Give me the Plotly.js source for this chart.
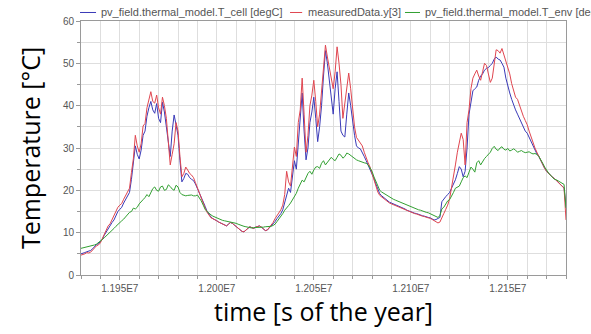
<!DOCTYPE html>
<html>
<head>
<meta charset="utf-8">
<script src="https://cdn.plot.ly/plotly-3.0.1.min.js"></script>
<style>html,body{margin:0;padding:0;background:#fff;}#chart{width:591px;height:334px;}</style>
</head>
<body>
<div id="chart"></div>
<script>
// time [s of the year]
const time = [
11930000,11931000,11932000,11933000,11934000,11935000,11936000,11937000,11938000,11939000,
11940000,11941000,11942000,11943000,11944000,11945000,11946000,11947000,11948000,11949000,
11950000,11951000,11952000,11953000,11954000,11955000,11956000,11957000,11958000,11959000,
11960000,11961000,11962000,11963000,11964000,11965000,11966000,11967000,11968000,11969000,
11970000,11971000,11972000,11973000,11974000,11975000,11976000,11977000,11978000,11979000,
11980000,11981000,11982000,11983000,11984000,11985000,11986000,11987000,11988000,11989000,
11990000,11991000,11992000,11993000,11994000,11995000,11996000,11997000,11998000,11999000,
12000000,12001000,12002000,12003000,12004000,12005000,12006000,12007000,12008000,12009000,
12010000,12011000,12012000,12013000,12014000,12015000,12016000,12017000,12018000,12019000,
12020000,12021000,12022000,12023000,12024000,12025000,12026000,12027000,12028000,12029000,
12030000,12031000,12032000,12033000,12034000,12035000,12036000,12037000,12038000,12039000,
12040000,12041000,12042000,12043000,12044000,12045000,12046000,12047000,12048000,12049000,
12050000,12051000,12052000,12053000,12054000,12055000,12056000,12057000,12058000,12059000,
12060000,12061000,12062000,12063000,12064000,12065000,12066000,12067000,12068000,12069000,
12070000,12071000,12072000,12073000,12074000,12075000,12076000,12077000,12078000,12079000,
12080000,12081000,12082000,12083000,12084000,12085000,12086000,12087000,12088000,12089000,
12090000,12091000,12092000,12093000,12094000,12095000,12096000,12097000,12098000,12099000,
12100000,12101000,12102000,12103000,12104000,12105000,12106000,12107000,12108000,12109000,
12110000,12111000,12112000,12113000,12114000,12115000,12116000,12117000,12118000,12119000,
12120000,12121000,12122000,12123000,12124000,12125000,12126000,12127000,12128000,12129000,
12130000,12131000,12132000,12133000,12134000,12135000,12136000,12137000,12138000,12139000,
12140000,12141000,12142000,12143000,12144000,12145000,12146000,12147000,12148000,12149000,
12150000,12151000,12152000,12153000,12154000,12155000,12156000,12157000,12158000,12159000,
12160000,12161000,12162000,12163000,12164000,12165000,12166000,12167000,12168000,12169000,
12170000,12171000,12172000,12173000,12174000,12175000,12176000,12177000,12178000,12179000,
12180000];

// pv_field.thermal_model.T_cell [degC]
const tCell = [
5.0,5.1,5.3,5.5,5.6,5.8,6.2,6.7,7.2,7.4,7.8,8.4,9.4,10.2,11.0,11.8,12.4,13.0,14.0,15.0,
15.5,16.0,17.0,17.8,18.5,19.5,22.6,26.0,30.5,28.5,27.4,29.5,33.0,34.0,37.5,39.5,41.0,39.0,38.2,40.5,
37.0,36.0,40.8,38.5,35.2,31.0,28.0,34.0,37.8,35.5,33.0,27.0,22.0,22.8,24.0,23.8,23.0,22.6,22.3,21.5,
20.5,19.5,18.6,17.2,16.2,15.0,14.3,13.7,13.3,13.1,12.8,12.5,12.3,12.1,11.8,11.6,12.0,12.4,12.2,11.8,
11.3,10.9,10.6,10.3,10.2,10.6,11.0,11.4,11.2,11.0,11.3,11.5,11.6,11.3,11.0,10.5,10.6,11.1,11.6,12.0,
12.6,13.3,13.8,14.5,15.4,17.0,19.0,20.5,19.5,23.0,27.0,25.0,31.0,37.0,43.0,34.0,27.2,30.0,36.0,38.5,
42.0,37.0,31.5,35.0,40.0,47.0,53.0,50.0,46.0,42.0,38.0,44.0,48.0,41.0,34.0,33.0,32.6,38.0,43.0,40.0,
36.0,33.0,30.5,30.0,29.8,29.0,28.0,27.0,26.0,25.2,24.2,22.8,21.5,20.2,19.2,18.7,18.3,17.9,17.5,17.2,
17.0,16.8,16.6,16.5,16.3,16.0,15.8,15.6,15.3,15.1,14.9,14.7,14.6,14.5,14.3,14.1,14.0,13.9,13.7,13.6,
13.5,13.3,13.0,13.1,13.4,13.6,17.3,18.0,18.5,19.0,19.5,20.5,21.5,22.5,24.0,25.6,25.0,23.2,24.5,30.0,
38.0,41.0,43.5,44.0,44.4,46.0,47.0,47.5,48.4,48.8,49.0,49.5,50.0,51.0,51.5,51.0,50.8,50.0,49.1,46.5,
44.4,43.0,41.5,40.0,39.0,38.0,37.0,36.0,35.0,34.0,33.5,32.5,31.5,30.3,29.3,28.6,28.0,27.0,26.0,25.2,
24.5,24.0,23.5,23.1,22.8,22.3,21.8,21.4,21.0,20.6,
16.0];

// measuredData.y[3]
const measured = [
4.7,4.8,5.0,5.3,5.2,5.4,5.8,6.4,6.9,7.1,7.6,8.6,9.8,10.9,11.6,12.1,13.1,14.3,15.0,16.0,
16.5,16.9,17.9,18.8,19.6,20.5,24.2,27.5,33.0,30.5,29.0,31.0,35.2,35.8,39.5,41.5,43.3,41.0,40.6,42.5,
39.5,38.0,42.0,40.0,37.0,31.5,26.0,28.5,31.0,36.0,34.0,28.0,23.2,24.0,25.5,24.8,24.0,23.6,23.0,21.8,
20.5,19.2,18.2,16.8,15.8,14.8,14.0,13.5,13.3,13.1,12.8,12.5,12.3,12.1,11.8,11.6,12.0,12.4,12.2,11.8,
11.3,10.9,10.6,10.3,10.2,10.6,11.0,11.4,11.2,11.0,11.3,11.5,11.6,11.3,11.0,10.5,10.6,11.2,11.8,12.4,
13.3,14.0,14.6,15.4,16.5,19.0,24.5,22.0,21.0,26.0,30.2,28.0,36.0,39.0,46.5,38.0,29.0,33.0,40.0,42.5,
46.0,41.0,35.0,38.0,43.0,49.0,54.3,51.5,49.0,47.0,44.0,48.0,53.9,50.0,45.0,37.0,40.6,45.0,47.7,44.0,
39.0,35.0,32.5,31.8,31.2,30.5,29.0,27.5,26.5,25.5,24.0,22.5,21.0,19.6,18.8,18.4,18.0,17.7,17.3,17.0,
16.8,16.6,16.4,16.3,16.1,15.8,15.6,15.4,15.2,15.0,14.8,14.6,14.5,14.4,14.2,14.0,13.9,13.8,13.6,13.5,
13.4,13.1,12.8,12.6,12.3,12.5,13.7,14.5,15.5,16.5,18.0,20.5,23.0,26.0,29.0,31.0,33.5,32.0,26.0,36.0,
39.0,44.0,46.5,47.5,48.4,47.0,46.0,48.0,50.0,49.5,47.7,45.5,46.5,50.5,53.2,53.0,52.4,53.5,52.0,51.0,
49.5,47.5,45.2,43.5,42.0,41.5,40.0,38.5,37.5,36.5,35.5,34.0,32.6,31.2,30.0,29.0,28.0,27.0,26.0,25.2,
24.5,24.0,23.5,23.1,22.8,22.3,21.8,21.4,21.0,20.5,
13.0];

// pv_field.thermal_model.T_env
const tEnv = [
6.3,6.4,6.5,6.6,6.7,6.8,6.9,7.1,7.3,7.6,8.0,8.4,8.8,9.2,9.7,10.2,10.6,11.0,11.5,12.0,
12.5,12.8,13.2,13.8,14.3,14.8,15.0,15.8,15.6,16.0,16.8,17.4,17.8,18.3,19.0,18.5,19.6,20.4,20.8,20.0,
19.8,20.8,21.0,20.0,20.2,21.3,20.9,20.3,20.0,21.2,20.8,19.5,19.0,18.9,18.7,18.8,18.8,18.9,18.7,18.7,
18.9,18.3,17.5,16.5,15.5,15.0,14.5,14.2,13.9,13.7,13.5,13.2,13.0,12.9,12.8,12.7,12.6,12.6,12.5,12.3,
12.2,12.0,11.8,11.7,11.5,11.4,11.3,11.2,11.1,11.2,11.2,11.2,11.3,11.3,11.3,11.4,11.4,11.5,11.5,11.7,
12.0,12.6,13.2,13.8,14.5,15.3,16.0,16.4,17.0,17.8,18.5,19.3,20.5,21.5,22.4,22.0,23.0,24.0,24.5,23.8,
24.8,25.5,25.6,25.2,26.4,27.0,26.0,26.6,27.0,27.8,27.3,27.0,27.8,28.6,28.3,27.6,28.0,28.8,28.6,28.2,
27.9,27.6,27.2,27.0,26.8,26.6,26.5,26.4,26.0,25.3,24.5,23.2,22.0,21.0,20.0,19.6,19.3,19.0,18.6,18.3,
18.1,17.9,17.7,17.5,17.3,17.1,17.0,16.8,16.6,16.4,16.2,16.0,15.8,15.6,15.4,15.3,15.1,14.9,14.8,14.7,
14.5,14.2,14.0,13.8,13.6,14.0,15.6,16.0,16.8,17.5,17.8,18.5,19.5,20.5,20.8,21.0,22.0,23.0,23.4,23.0,
24.3,25.5,25.0,24.3,26.5,27.0,26.0,26.8,27.5,28.0,28.5,29.0,29.9,30.4,29.7,29.4,30.0,30.3,29.7,29.5,
29.9,29.3,29.5,29.8,29.5,29.0,29.2,29.4,29.1,28.9,29.0,29.1,28.8,28.6,28.7,28.5,28.0,27.3,26.4,25.5,
24.7,24.1,23.6,23.0,22.6,22.5,22.2,22.0,21.7,21.4,
15.8];

const seriesNames = ["pv_field.thermal_model.T_cell [degC]", "measuredData.y[3]", "pv_field.thermal_model.T_env [degC]"];
const seriesColors = ["#3a3ab8", "#e04650", "#32a032"];
const xTickVals = [11950000, 12000000, 12050000, 12100000, 12150000];
const xTickText = ["1.195E7", "1.200E7", "1.205E7", "1.210E7", "1.215E7"];

const ys = [tCell, measured, tEnv];
const traces = ys.map((y, k) => ({
  x: time, y: y, type: 'scatter', mode: 'lines', name: seriesNames[k],
  line: {color: seriesColors[k], width: 1}, showlegend: false
}));

// custom legend (short line samples like the original)
const legY = 1.0335;
const legLine = [[-0.002, 0.031], [0.431, 0.456], [0.668, 0.699]];
const legText = [0.0371, 0.464, 0.705];
const shapes = legLine.map((p, k) => ({
  type: 'line', xref: 'paper', yref: 'paper', x0: p[0], x1: p[1], y0: legY, y1: legY,
  line: {color: seriesColors[k], width: 1}
}));
const annotations = legText.map((px, k) => ({
  xref: 'paper', yref: 'paper', x: px, y: legY, xanchor: 'left', yanchor: 'middle',
  text: seriesNames[k], showarrow: false,
  font: {family: 'Liberation Sans, Arial, sans-serif', size: 11, color: '#555'}
}));

const layout = {
  width: 591, height: 334,
  margin: {l: 81, r: 25, t: 21, b: 59},
  paper_bgcolor: '#fff', plot_bgcolor: '#fff',
  showlegend: false,
  xaxis: {
    range: [11930000, 12180000],
    tickvals: xTickVals, ticktext: xTickText,
    tickfont: {family: 'Liberation Sans, Arial, sans-serif', size: 10, color: '#555'},
    ticks: 'outside', ticklen: 4, tickcolor: '#999',
    showgrid: true, gridcolor: '#dedede', gridwidth: 1,
    minor: {dtick: 10000, tick0: 11930000, showgrid: true, gridcolor: '#dedede', ticks: 'outside', ticklen: 3, tickcolor: '#999'},
    showline: true, linecolor: '#9a9a9a', mirror: true, zeroline: false,
    title: {text: 'time [s of the year]', font: {family: 'Open Sans', size: 25, color: '#000'}, standoff: 8}
  },
  yaxis: {
    range: [0, 60], dtick: 10, tick0: 0,
    tickfont: {family: 'Liberation Sans, Arial, sans-serif', size: 10, color: '#555'},
    ticks: 'outside', ticklen: 4, tickcolor: '#999',
    showgrid: true, gridcolor: '#dedede', gridwidth: 1,
    minor: {dtick: 5, showgrid: true, gridcolor: '#dedede', ticks: 'outside', ticklen: 3, tickcolor: '#999'},
    showline: true, linecolor: '#9a9a9a', mirror: true, zeroline: false,
    title: {text: 'Temperature [°C]', font: {family: 'Open Sans', size: 25, color: '#000'}, standoff: 15}
  },
  shapes: shapes,
  annotations: annotations
};

Plotly.newPlot('chart', traces, layout, {staticPlot: true, displayModeBar: false});
</script>
</body>
</html>
